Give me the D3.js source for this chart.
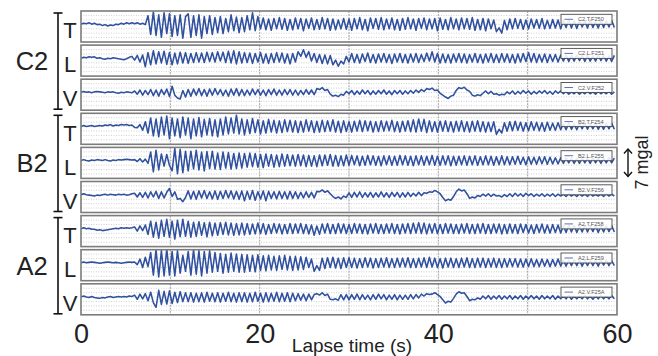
<!DOCTYPE html>
<html><head><meta charset="utf-8">
<script src="https://cdn.jsdelivr.net/npm/d3@7"></script>
<style>body{margin:0;background:#fff}svg{display:block;font-family:"Liberation Sans",Arial,Helvetica,sans-serif}</style>
</head><body>
<svg id="c" width="658" height="356"></svg>
<script>
// ---- data (sample step 0.3 s; amplitudes, arbitrary units) ----
const DT = 0.3;
const groups = ["C2", "B2", "A2"];
const comps = ["T", "L", "V"];
const legendLabels = ["C2.T.F250","C2.L.F251","C2.V.F252","B2.T.F254","B2.L.F255","B2.V.F256","A2.T.F258","A2.L.F259","A2.V.F25A"];
const xTicks = [0, 20, 40, 60];
const xGrid = [10, 20, 30, 40, 50];
const scaleLabel = "7 mgal";
const xTitle = "Lapse time (s)";

const C2_T = [
0,2,1,3,0,2,-1,0,-3,-1,-4,-2,-3,0,-1,2,0,3,1,3,
1,3,0,2,-1,18,-22,26,-24,20,-28,24,-20,22,-26,18,-24,20,-30,16,
22,-28,18,-24,20,-30,16,-20,18,-22,14,-18,16,-20,12,-16,20,-14,15,-18,
14,-16,18,-12,24,-14,16,-10,13,-12,11,-13,12,-10,14,-11,12,-13,10,-12,
13,-10,12,-14,11,-9,13,-12,10,-11,14,-10,12,-13,11,-12,9,-10,12,-11,
11,-13,12,-10,14,-12,10,-14,13,-9,12,-11,14,-12,11,-10,13,-12,10,-13,
12,-11,14,-10,11,-13,12,-9,13,-12,11,-10,12,-14,13,-11,10,-12,14,-10,
11,-12,13,-10,12,-11,14,-13,10,-12,12,-14,11,-10,9,-16,-8,-19,8,-12,
11,-10,12,-9,10,-11,9,-10,11,-8,10,-9,12,-10,8,-9,10,-8,9,-10,
8,-7,9,-8,7,-9,8,-6,7,-8,9,-7,6,-8,8,-7,7,-6,8,-7];
const C2_L = [
0,2,1,3,2,3,0,1,-1,-2,0,-1,1,0,-1,-2,-3,-1,2,4,
-4,6,-8,7,-18,12,-14,16,-12,14,-10,15,-13,12,-14,11,-12,13,-10,12,
-11,10,-9,12,-8,11,-9,13,-7,12,-8,14,-6,13,-9,15,-10,16,-12,14,
-10,12,-9,11,-11,10,-8,12,-10,9,-11,10,-9,12,-8,11,-10,9,-12,10,
-8,14,4,18,2,14,-6,10,-9,8,-11,7,-12,6,-14,-4,-17,-6,-12,4,
-8,10,-9,8,-10,9,-7,11,-9,8,-10,9,-8,10,-9,8,-11,9,-8,10,
-9,8,-10,9,-8,10,-9,8,-7,11,-6,14,-8,10,-10,9,-9,8,-10,9,
-8,10,-9,9,-10,8,-8,10,-9,8,-10,9,-8,10,-9,8,-9,10,-8,9,
-9,8,-10,9,-8,10,-7,12,-8,10,-9,8,-8,9,-9,8,-7,8,-8,7,
-6,7,-7,6,-6,7,-5,6,-7,6,-6,5,-6,7,-5,6,-6,5,-7,6];
const C2_V = [
0,2,0,1,-1,1,2,1,0,-1,1,0,1,-1,-2,0,-1,1,0,-1,
3,-4,5,-6,4,-5,6,-7,5,-8,6,-5,7,-9,13,-6,-12,-14,4,-10,
6,-8,7,-6,8,-7,6,-8,7,-6,8,-5,6,-7,5,-8,7,-6,8,-7,
6,-7,5,-6,7,-5,6,-6,5,-7,6,-5,7,-6,5,-6,6,-5,6,-6,
5,-6,4,-5,6,-4,5,-5,8,6,10,4,6,-4,-8,-6,-9,-4,-6,2,
-3,4,-5,3,-4,5,-3,4,-5,3,-4,4,-3,5,-4,3,-5,4,-3,4,
-4,3,-3,4,-2,5,0,6,2,8,6,9,4,5,-2,-6,-10,-13,-8,-6,
4,10,8,11,5,2,-6,-8,-5,-7,-2,3,-3,2,-4,-3,-6,-4,-5,1,
-3,3,-4,2,-3,4,-2,3,-4,2,-3,3,-2,4,-3,2,-4,3,-2,3,
-3,2,-4,1,-3,2,-4,1,-3,2,-3,1,-4,2,-3,1,-3,2,-4,1];
const B2_T = [
0,2,0,1,2,0,1,2,1,3,2,4,1,3,2,4,3,4,2,3,
-2,-3,4,-8,10,-14,18,-20,16,-22,20,-18,22,-26,18,-20,16,-24,20,-18,
18,-26,16,-20,19,-22,15,-18,17,-20,14,-22,16,-18,20,-16,18,-14,24,-16,
16,-18,14,-15,17,-13,14,-16,12,-14,15,-12,13,-14,12,-13,14,-11,13,-12,
12,-13,11,-12,14,-10,12,-13,11,-12,13,-11,12,-10,14,-12,11,-13,12,-11,
10,-12,11,-10,13,-11,12,-9,11,-12,10,-11,12,-10,11,-9,13,-11,10,-12,
11,-10,12,-11,14,-12,16,-10,15,-13,12,-11,10,-12,11,-10,12,-11,10,-12,
11,-10,12,-11,10,-12,11,-10,12,-11,10,-12,9,-11,10,-17,-6,-14,8,-10,
10,-9,11,-8,9,-10,8,-9,10,-8,9,-9,8,-10,9,-8,7,-8,8,-7,
6,-7,7,-6,5,-7,6,-5,7,-6,6,-5,7,-6,5,-6,6,-5,7,-6];
const B2_L = [
0,2,0,-1,1,0,2,1,0,2,0,-1,1,0,2,1,2,3,2,1,
2,-2,4,-3,3,-6,18,-24,22,-20,14,-12,13,-10,-22,26,-28,24,-26,20,
-22,20,-18,22,-20,18,-22,19,-17,20,-18,16,-19,18,-16,17,-18,15,-17,16,
-16,15,-14,16,-13,15,-14,13,-15,14,-12,13,-14,12,-13,14,-12,13,-11,12,
-12,13,-11,12,-13,11,-12,10,-13,12,-11,12,-10,13,-12,11,-12,10,-11,12,
-10,11,-9,10,-11,9,-10,11,-9,10,-10,9,-11,10,-9,10,-10,9,-10,11,
-9,10,-10,9,-11,10,-9,10,-10,9,-9,11,-10,9,-10,10,-9,10,-11,9,
-10,9,-9,10,-10,9,-9,10,-10,8,-9,10,-9,9,-10,8,-9,10,-9,8,
-9,8,-8,9,-8,7,-9,8,-8,7,-8,8,-7,8,-8,7,-7,6,-7,6,
-6,6,-5,6,-6,5,-6,6,-5,5,-6,6,-5,5,-6,5,-5,6,-5,5];
const B2_V = [
0,2,0,-1,-2,-3,-1,-2,0,1,-1,1,0,-1,1,0,1,-1,0,2,
3,-5,4,-6,5,-7,6,-5,7,-8,6,-7,5,13,-4,6,-10,-8,-15,-6,
8,-9,7,-10,8,-7,9,-8,6,-9,8,-10,7,-8,9,-7,8,-9,7,-10,
8,-13,7,-10,9,-12,6,-9,8,-13,7,-8,6,-9,7,-8,6,-9,7,-8,
6,-8,5,-7,6,-6,5,-7,7,6,10,5,8,2,-4,-8,-5,-9,-3,-6,
4,-6,5,-5,6,-6,4,-5,5,-6,4,-5,6,-5,4,-6,5,-4,5,-6,
4,-5,5,-4,3,-3,5,-2,4,3,6,5,9,6,2,-6,-13,-10,-12,-4,
6,12,8,10,2,-8,-5,-7,-2,-4,1,-3,2,-4,1,-3,-2,-5,0,-4,
2,-4,3,-3,2,-4,3,-2,2,-4,1,-3,2,-4,1,-3,2,-4,1,-3,
1,-4,2,-3,1,-4,2,-3,1,-4,2,-3,0,-3,1,-4,2,-3,1,-3];
const A2_T = [
0,2,0,1,-1,-1,-3,-2,-4,-3,-2,-1,0,1,0,2,1,2,1,2,
4,-5,6,-4,8,-12,16,-18,14,-20,18,-16,20,-18,16,-22,18,-17,20,-16,
16,-18,14,-16,15,-14,13,-17,14,-15,12,-14,13,-12,14,-13,12,-14,11,-13,
12,-13,11,-12,10,-11,12,-10,11,-12,9,-10,11,-9,10,-11,9,-10,11,-10,
10,-9,11,-10,9,-11,8,-14,6,-12,10,-9,11,-10,9,-10,11,-9,10,-10,
9,-10,11,-9,10,-10,9,-11,10,-9,11,-10,9,-10,10,-9,11,-10,9,-11,
10,-9,11,-10,12,-9,13,-10,12,-11,10,-9,11,-10,9,-10,11,-9,10,-10,
9,-10,10,-9,11,-10,9,-10,10,-9,11,-10,9,-10,10,-9,10,-11,9,-10,
10,-9,9,-10,10,-8,9,-9,8,-10,9,-8,10,-9,8,-9,9,-8,8,-9,
7,-8,8,-7,7,-8,6,-7,8,-7,7,-6,7,-8,6,-7,7,-6,7,-7];
const A2_L = [
0,2,0,1,2,1,0,-1,0,1,2,1,0,1,0,-1,0,1,2,1,
2,-4,8,-10,12,-8,22,-26,28,-30,26,-28,30,-26,24,-28,26,-22,16,-18,
24,-26,28,-24,26,-28,24,-22,26,-20,22,-18,20,-22,18,-20,21,-18,19,-20,
18,-20,17,-18,16,-19,17,-16,15,-17,16,-15,14,-16,15,-14,16,-15,14,-16,
14,-15,13,-14,12,-10,8,-18,-6,-16,10,-12,11,-10,12,-11,10,-12,11,-10,
11,-10,10,-11,9,-10,11,-9,10,-11,9,-10,10,-9,11,-10,9,-10,10,-9,
10,-9,11,-10,9,-10,10,-9,11,-10,12,-9,10,-10,9,-11,10,-9,10,-10,
9,-10,10,-9,11,-10,9,-10,10,-9,10,-10,9,-9,10,-10,9,-10,9,-9,
9,-8,9,-9,8,-9,8,-8,9,-8,7,-8,8,-7,7,-8,7,-7,8,-7,
6,-7,6,-6,7,-6,6,-7,5,-6,6,-6,5,-7,6,-5,6,-6,5,-6];
const A2_V = [
0,2,0,-1,1,-1,-2,-3,-1,-2,0,1,-1,0,1,0,1,0,2,1,
4,-5,6,-4,7,-8,10,-12,-22,14,-16,12,-15,13,-14,10,-12,11,-10,9,
-10,9,-11,8,-10,9,-11,10,-9,8,-10,9,-11,8,-9,10,-10,8,-11,9,
-10,9,-11,8,-10,10,-9,8,-11,9,-10,8,-9,10,-10,8,-9,9,-10,8,
-8,7,-7,6,-8,6,-6,5,7,4,9,3,6,-5,-6,-4,-7,5,-6,5,
-6,5,-5,6,-6,5,-5,4,-6,5,-5,6,-4,5,-6,4,-5,5,-6,4,
-5,4,-5,5,-4,5,-2,6,2,7,5,6,9,5,1,-6,-13,-9,-11,-3,
6,11,8,9,1,-8,-5,-6,-2,-5,2,-4,3,-5,2,-4,3,-5,2,-4,
3,-5,2,-4,3,-5,2,-4,3,-4,2,-5,3,-4,2,-4,3,-5,2,-4,
2,-4,3,-5,2,-4,2,-4,3,-4,2,-5,2,-4,3,-4,2,-4,3,-4];
const series = [C2_T, C2_L, C2_V, B2_T, B2_L, B2_V, A2_T, A2_L, A2_V];

// ---- layout ----
const top0 = 11, pitch = 34.1, panelH = 31;
const svg = d3.select("#c");
const x = d3.scaleLinear().domain([0, 60]).range([81, 617]);
const y = d3.scaleLinear().domain([-38, 28]).range([panelH, 0]);
const line = d3.line().x((d, i) => x(i * DT)).y(d => y(d));
const ink = "#222";
const traceColor = "#30519f";

const defs = svg.append("defs");
series.forEach((s, i) => {
  const py = top0 + i * pitch;
  const g = svg.append("g").attr("transform", `translate(0,${py})`);
  defs.append("clipPath").attr("id", "cp" + i).append("rect")
    .attr("x", x(0)).attr("y", 0).attr("width", x(60) - x(0)).attr("height", panelH);
  g.append("rect").attr("x", x(0)).attr("y", 0).attr("width", x(60) - x(0)).attr("height", panelH).attr("fill", "#fff");
  g.selectAll("line.h").data(d3.range(1, 7)).join("line")
    .attr("x1", x(0)).attr("x2", x(60))
    .attr("y1", k => k * panelH / 7).attr("y2", k => k * panelH / 7)
    .attr("stroke", "#c4c4c4").attr("stroke-width", 0.8).attr("stroke-dasharray", "1,1.5");
  g.selectAll("line.v").data(xGrid).join("line")
    .attr("x1", d => x(d)).attr("x2", d => x(d)).attr("y1", 0).attr("y2", panelH)
    .attr("stroke", "#a0a0a0").attr("stroke-width", 1).attr("stroke-dasharray", "2,1");
  g.append("path").datum(s).attr("d", line).attr("fill", "none")
    .attr("stroke", traceColor).attr("stroke-width", 1.55).attr("stroke-linejoin", "round")
    .attr("clip-path", `url(#cp${i})`);
  const lg = g.append("g").attr("transform", `translate(${x(60) - 56},3.3)`);
  lg.append("rect").attr("width", 51).attr("height", 10).attr("fill", "#fff").attr("fill-opacity", 0.88)
    .attr("stroke", "#4a4a4a").attr("stroke-width", 0.9);
  lg.append("line").attr("x1", 3.5).attr("x2", 12).attr("y1", 5).attr("y2", 5)
    .attr("stroke", "#5a73b8").attr("stroke-width", 1);
  lg.append("text").attr("x", 17).attr("y", 7).attr("font-size", 5.6).attr("fill", "#555")
    .text(legendLabels[i]);
  g.append("rect").attr("x", x(0)).attr("y", 0).attr("width", x(60) - x(0)).attr("height", panelH)
    .attr("fill", "none").attr("stroke", "#7c7c7c").attr("stroke-width", 1.6);
  g.append("text").attr("x", 70).attr("y", panelH - 3.7).attr("text-anchor", "middle")
    .attr("font-size", 22).attr("fill", ink).text(comps[i % 3]);
});

groups.forEach((name, gi) => {
  const t = top0 + gi * 3 * pitch + 2;
  const b = top0 + (gi * 3 + 2) * pitch + panelH - 1;
  const br = svg.append("g").attr("stroke", "#111").attr("stroke-width", 1.6);
  br.append("line").attr("x1", 58).attr("x2", 58).attr("y1", t).attr("y2", b);
  br.append("line").attr("x1", 53.5).attr("x2", 62.5).attr("y1", t).attr("y2", t);
  br.append("line").attr("x1", 53.5).attr("x2", 62.5).attr("y1", b).attr("y2", b);
  svg.append("text").attr("x", 32).attr("y", (t + b) / 2 + 9).attr("text-anchor", "middle")
    .attr("font-size", 25.5).attr("fill", ink).text(name);
});

const xAxis = d3.axisBottom(x).tickValues(xTicks).tickSize(0).tickPadding(0).tickFormat(d3.format("d"));
const ax = svg.append("g").attr("transform", `translate(0,${top0 + 8 * pitch + panelH})`).call(xAxis);
ax.select(".domain").remove();
ax.selectAll("text").attr("font-size", 27).attr("fill", ink)
  .attr("font-family", '"Liberation Sans",Arial,sans-serif').attr("dy", null).attr("y", 28);
svg.append("text").attr("x", 352).attr("y", 352).attr("text-anchor", "middle")
  .attr("font-size", 19).attr("fill", ink).text(xTitle);

const sb = svg.append("g").attr("stroke", "#111").attr("stroke-width", 1.4).attr("fill", "none");
sb.append("line").attr("x1", 628).attr("x2", 628).attr("y1", 149).attr("y2", 176.5);
sb.append("polyline").attr("points", "624,153.5 628,149 632,153.5");
sb.append("polyline").attr("points", "624,172 628,176.5 632,172");
svg.append("text").attr("transform", "translate(648,162.5) rotate(-90)").attr("text-anchor", "middle")
  .attr("font-size", 18).attr("fill", ink).text(scaleLabel);
</script>
</body></html>
